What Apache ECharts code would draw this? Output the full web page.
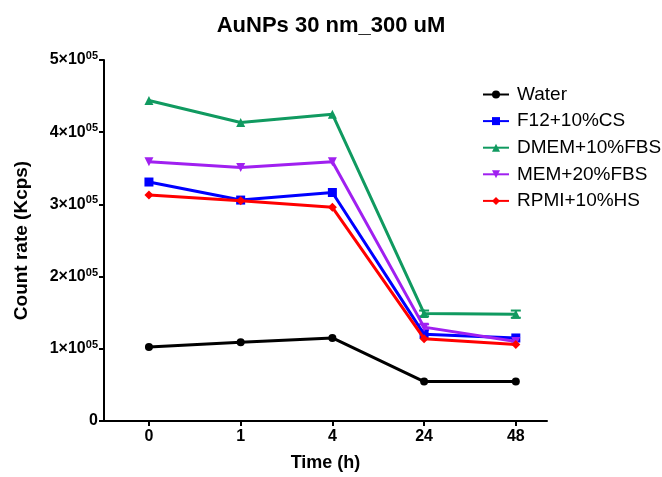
<!DOCTYPE html>
<html>
<head>
    <meta charset="utf-8">
    <title>AuNPs 30 nm_300 uM</title>
    <script src="https://cdn.jsdelivr.net/npm/echarts@6/dist/echarts.min.js"></script>
    <style>
        body { margin: 0; background: #fff; }
        #main { width: 662px; height: 477px; }
    </style>
</head>
<body>
<div id="main"></div>
<script type="text/javascript">
    // time points (h)
    var times = ['0', '1', '4', '24', '48'];

    // count rate values
    var water = [1.025e5, 1.09e5, 1.15e5, 0.546e5, 0.546e5];
    var f12 = [3.31e5, 3.06e5, 3.165e5, 1.2e5, 1.15e5];
    var dmem = [4.44e5, 4.135e5, 4.25e5, 1.49e5, 1.48e5];
    var mem = [3.59e5, 3.51e5, 3.59e5, 1.3e5, 1.1e5];
    var rpmi = [3.13e5, 3.05e5, 2.96e5, 1.14e5, 1.06e5];

    // error bars (SD)
    var dmemErr = [0, 0, 0, 0.04e5, 0.05e5];
    var memErr = [0, 0, 0, 0.04e5, 0];

    var names = ['Water', 'F12+10%CS', 'DMEM+10%FBS', 'MEM+20%FBS', 'RPMI+10%HS'];
    var colors = ['#000000', '#0000ff', '#109a60', '#a020f0', '#ff0000'];
    var symbols = ['circle', 'rect', 'triangle', 'triangle', 'diamond'];
    var rotates = [0, 0, 0, 180, 0];
    var values = [water, f12, dmem, mem, rpmi];

    function pairs(arr) {
        return arr.map(function (v, i) { return [i, v]; });
    }

    function errData(arr, err) {
        var out = [];
        for (var i = 0; i < arr.length; i++) {
            if (err[i] > 0) out.push([i, arr[i], err[i]]);
        }
        return out;
    }

    function errSeries(arr, err, color) {
        return {
            type: 'custom',
            silent: true,
            z: 1,
            data: errData(arr, err),
            renderItem: function (params, api) {
                var x = api.value(0), v = api.value(1), e = api.value(2);
                var top = api.coord([x, v + e]);
                var bot = api.coord([x, v - e]);
                var w = 5;
                var st = {stroke: color, lineWidth: 2};
                return {
                    type: 'group',
                    children: [
                        {type: 'line', shape: {x1: top[0], y1: top[1], x2: bot[0], y2: bot[1]}, style: st},
                        {type: 'line', shape: {x1: top[0] - w, y1: top[1], x2: top[0] + w, y2: top[1]}, style: st},
                        {type: 'line', shape: {x1: bot[0] - w, y1: bot[1], x2: bot[0] + w, y2: bot[1]}, style: st}
                    ]
                };
            }
        };
    }

    var series = [];
    for (var i = 0; i < names.length; i++) {
        series.push({
            name: names[i],
            type: 'line',
            data: pairs(values[i]),
            symbol: symbols[i],
            symbolRotate: rotates[i],
            symbolSize: symbols[i] === 'circle' ? 8 : 9,
            showAllSymbol: true,
            itemStyle: {color: colors[i]},
            lineStyle: {color: colors[i], width: 3},
            z: 2 + i
        });
    }
    series.push(errSeries(dmem, dmemErr, colors[2]));
    series.push(errSeries(mem, memErr, colors[3]));

    var chart = echarts.init(document.getElementById('main'));
    var option = {
        animation: false,
        backgroundColor: '#fff',
        title: {
            text: 'AuNPs 30 nm_300 uM',
            left: 'center',
            top: 10,
            textStyle: {fontFamily: 'Liberation Sans', fontWeight: 'bold', fontSize: 22, color: '#000'}
        },
        legend: {
            orient: 'vertical',
            left: 477,
            top: 80,
            itemWidth: 26,
            itemHeight: 10,
            itemGap: 7.6,
            data: names,
            textStyle: {fontFamily: 'Liberation Sans', fontSize: 19, color: '#000', padding: [0, 0, 0, 3]}
        },
        grid: {left: 104, right: 115, top: 60, bottom: 51},
        xAxis: {
            type: 'value',
            min: -0.49,
            max: 4.34,
            name: 'Time (h)',
            nameLocation: 'middle',
            nameGap: 33,
            nameTextStyle: {fontFamily: 'Liberation Sans', fontWeight: 'bold', fontSize: 18, color: '#000'},
            axisLine: {onZero: false, lineStyle: {color: '#000', width: 2}},
            axisTick: {show: true, length: 5, lineStyle: {color: '#000', width: 2}, customValues: [0, 1, 2, 3, 4]},
            axisLabel: {
                customValues: [0, 1, 2, 3, 4],
                formatter: function (v) { return times[Math.round(v)]; },
                fontFamily: 'Liberation Sans', fontWeight: 'bold', fontSize: 16, color: '#000', margin: 8
            },
            splitLine: {show: false}
        },
        yAxis: {
            type: 'value',
            min: 0,
            max: 5e5,
            interval: 1e5,
            name: 'Count rate (Kcps)',
            nameLocation: 'middle',
            nameGap: 73,
            nameTextStyle: {fontFamily: 'Liberation Sans', fontWeight: 'bold', fontSize: 19, color: '#000'},
            axisLine: {show: true, onZero: false, lineStyle: {color: '#000', width: 2}},
            axisTick: {show: true, length: 5, lineStyle: {color: '#000', width: 2}},
            axisLabel: {
                margin: 6,
                formatter: function (v) {
                    if (v === 0) return '{a|0}';
                    return '{a|' + (v / 1e5) + '×10}{s|05}';
                },
                rich: {
                    a: {fontFamily: 'Liberation Sans', fontWeight: 'bold', fontSize: 16, color: '#000'},
                    s: {fontFamily: 'Liberation Sans', fontWeight: 'bold', fontSize: 11, color: '#000', verticalAlign: 'top', padding: [0, 0, 8, 0]}
                }
            },
            splitLine: {show: false}
        },
        series: series
    };
    chart.setOption(option);
</script>
</body>
</html>
